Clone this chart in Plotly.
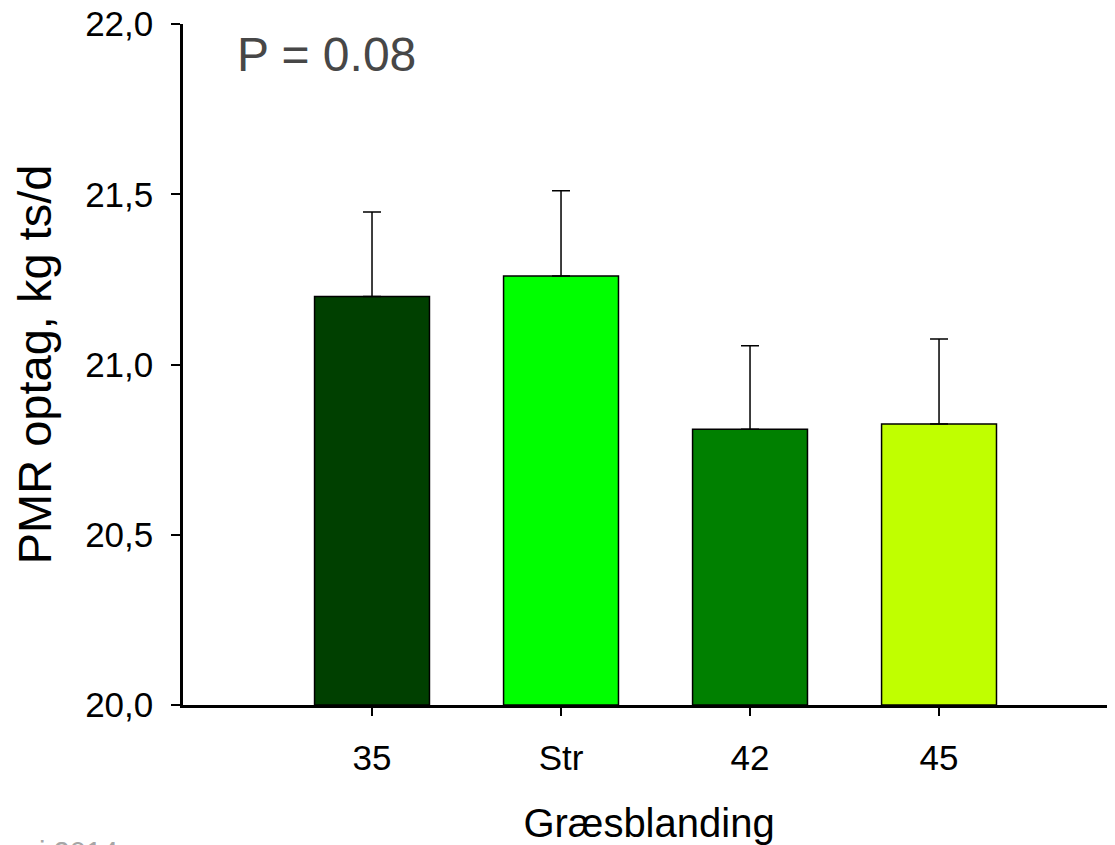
import plotly.graph_objects as go

categories = ["35", "Str", "42", "45"]
values = [21.20, 21.26, 20.81, 20.825]
errors = [0.248, 0.25, 0.245, 0.25]
colors = ["#004000", "#00FF00", "#008000", "#C0FF00"]
y_ticks = [20.0, 20.5, 21.0, 21.5, 22.0]
y_ticklabels = ["20,0", "20,5", "21,0", "21,5", "22,0"]

FONT = "Liberation Sans, Arial, sans-serif"

fig = go.Figure()
fig.add_trace(go.Bar(
    x=categories,
    y=[v - 20.0 for v in values],
    base=20.0,
    width=0.608,
    marker=dict(color=colors, line=dict(color="black", width=1.5)),
    error_y=dict(type="data", symmetric=False, array=errors,
                 arrayminus=[0] * len(errors),
                 color="black", thickness=1.5, width=9),
    showlegend=False,
    hoverinfo="skip",
))

fig.update_layout(
    width=1107, height=837,
    margin=dict(l=175, r=0, t=16, b=140, autoexpand=False),
    paper_bgcolor="white", plot_bgcolor="white",
    font=dict(family=FONT, color="black"),
    xaxis=dict(
        range=[-1, 3.931], showgrid=False, zeroline=False, automargin=False,
        showline=True, linecolor="black", linewidth=2.5,
        ticks="outside", ticklen=8, tickwidth=1.5, tickcolor="black",
        ticklabelstandoff=12,
        tickfont=dict(size=35, family=FONT),
        title=dict(text="Græsblanding", font=dict(size=40, family=FONT), standoff=37),
    ),
    yaxis=dict(
        range=[20.0, 22.0], showgrid=False, zeroline=False, automargin=False,
        showline=True, linecolor="black", linewidth=2.5,
        ticks="outside", ticklen=9, tickwidth=1.5, tickcolor="black",
        ticklabelstandoff=11, ticklabeloverflow="allow",
        tickvals=y_ticks, ticktext=y_ticklabels,
        tickfont=dict(size=35, family=FONT),
        title=dict(text="PMR optag, kg ts/d", font=dict(size=47, family=FONT), standoff=21),
    ),
    annotations=[
        dict(text="P = 0.08", xref="paper", yref="paper", x=0.056, y=0.955,
             xanchor="left", yanchor="middle", showarrow=False,
             font=dict(size=48, family=FONT, color="#474747")),
        dict(text="Foulum, maj 2014", xref="paper", yref="paper", x=-0.0676, y=-0.190,
             xanchor="right", yanchor="top", showarrow=False,
             font=dict(size=29, family=FONT, color="#a6a6a6")),
    ],
)

fig.write_html("out.html")
